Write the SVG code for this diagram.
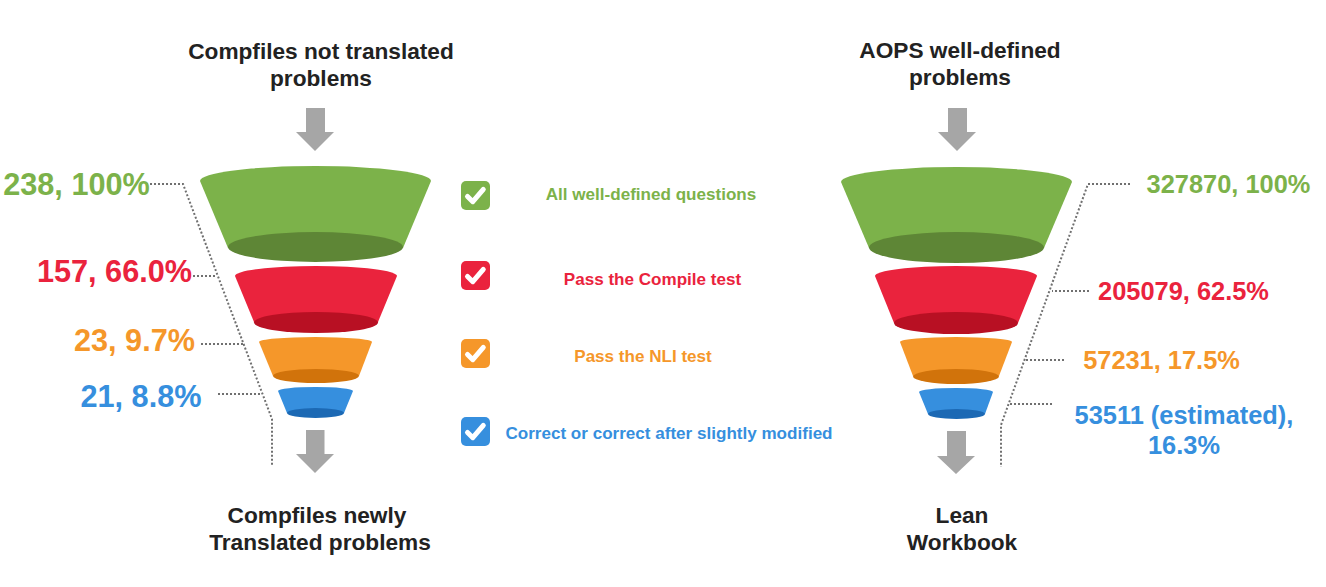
<svg xmlns="http://www.w3.org/2000/svg" width="1326" height="587" viewBox="0 0 1326 587">
<style>
text{font-family:"Liberation Sans",Arial,sans-serif;font-weight:bold;text-anchor:middle}
.title{font-size:22.67px;fill:#222}
.big{font-size:30.67px}
.mid{font-size:25.4px}
.small{font-size:17.07px}
.green{fill:#7CB24A}.red{fill:#EA233D}.orange{fill:#F5972A}.blue{fill:#368FDE}
.dgreen{fill:#5E8636}.dred{fill:#B81023}.dorange{fill:#D1730B}.dblue{fill:#1C69B4}
.arrow{fill:#A6A6A6}
.dots{fill:none;stroke:#707070;stroke-width:2;stroke-dasharray:2 2}
.tick{fill:none;stroke:#fff;stroke-width:5;stroke-linecap:round;stroke-linejoin:round}
</style>
<defs>
<path id="tk" class="tick" d="M6.500 15.500L11.800 20.700L22.300 8.300"/>
</defs>
<g id="connectors">
<path class="dots" d="M146 184H183L272 419V465"/>
<path class="dots" d="M193 276H217"/>
<path class="dots" d="M201 344H243"/>
<path class="dots" d="M218 394H261"/>
<path class="dots" d="M1130 184H1088L1001 425V467"/>
<path class="dots" d="M1089 291H1052"/>
<path class="dots" d="M1064 360H1025"/>
<path class="dots" d="M1052 404H1008"/>
</g>
<g id="title-left"><text class="title" x="321" y="59">Compfiles not translated</text><text class="title" x="321" y="86">problems</text></g>
<g id="title-right"><text class="title" x="960" y="58">AOPS well-defined</text><text class="title" x="960" y="85">problems</text></g>
<g id="arrow-left-top"><path class="arrow" d="M306 108H325V132H334L315 151L296 132H306Z"/></g>
<g id="arrow-right-top"><path class="arrow" d="M948 108H967V132H976L957 151L938 132H948Z"/></g>
<g id="arrow-left-bottom"><path class="arrow" d="M306 430H324.500V454H334L315 473L296 454H306Z"/></g>
<g id="arrow-right-bottom"><path class="arrow" d="M947 431H966V456H975L956 474L937 456H947Z"/></g>
<g id="funnel-left-1"><path class="green" d="M200 181A115.500 15 0 0 1 431 181L403 248H228Z"/><ellipse class="dgreen" cx="315.500" cy="247" rx="87.500" ry="15"/></g>
<g id="funnel-left-2"><path class="red" d="M235 276A81 10 0 0 1 397 276L378 322H254Z"/><ellipse class="dred" cx="316" cy="322.500" rx="62" ry="10.500"/></g>
<g id="funnel-left-3"><path class="orange" d="M259 342A56.500 5 0 0 1 372 342L359 376H273Z"/><ellipse class="dorange" cx="316" cy="376" rx="43" ry="7"/></g>
<g id="funnel-left-4"><path class="blue" d="M278 391A37.500 4 0 0 1 353 391L344 413H287Z"/><ellipse class="dblue" cx="315.500" cy="413" rx="28.500" ry="5"/></g>
<g id="funnel-right-1"><path class="green" d="M841 182A115.500 15 0 0 1 1072 182L1044 248H869Z"/><ellipse class="dgreen" cx="956.500" cy="247.500" rx="87.500" ry="15.500"/></g>
<g id="funnel-right-2"><path class="red" d="M875 276A81 10 0 0 1 1037 276L1018 323H894Z"/><ellipse class="dred" cx="956" cy="323" rx="62" ry="11"/></g>
<g id="funnel-right-3"><path class="orange" d="M900 342A56 5 0 0 1 1012 342L999 376H913Z"/><ellipse class="dorange" cx="956" cy="376.500" rx="43" ry="7.500"/></g>
<g id="funnel-right-4"><path class="blue" d="M919 392A37 4 0 0 1 993 392L985 414H928Z"/><ellipse class="dblue" cx="956.500" cy="414" rx="28.500" ry="5"/></g>
<g id="value-left-1"><text class="big green" x="76.500" y="195">238, 100%</text></g>
<g id="value-left-2"><text class="big red" x="114.500" y="282">157, 66.0%</text></g>
<g id="value-left-3"><text class="big orange" x="134.500" y="351">23, 9.7%</text></g>
<g id="value-left-4"><text class="big blue" x="141" y="407">21, 8.8%</text></g>
<g id="value-right-1"><text class="mid green" x="1228.500" y="193">327870, 100%</text></g>
<g id="value-right-2"><text class="mid red" x="1183.500" y="300">205079, 62.5%</text></g>
<g id="value-right-3"><text class="mid orange" x="1161.500" y="369">57231, 17.5%</text></g>
<g id="value-right-4"><text class="mid blue" x="1184" y="424">53511 (estimated),</text><text class="mid blue" x="1184" y="454">16.3%</text></g>
<g id="legend-1"><rect class="green" x="461" y="181" width="29" height="29" rx="5"/><use href="#tk" x="461" y="181"/><text class="small green" x="651" y="200">All well-defined questions</text></g>
<g id="legend-2"><rect class="red" x="461" y="261" width="29" height="29" rx="5"/><use href="#tk" x="461" y="261"/><text class="small red" x="652.500" y="285">Pass the Compile test</text></g>
<g id="legend-3"><rect class="orange" x="461" y="339" width="29" height="29" rx="5"/><use href="#tk" x="461" y="339"/><text class="small orange" x="643" y="362">Pass the NLI test</text></g>
<g id="legend-4"><rect class="blue" x="461" y="417" width="29" height="29" rx="5"/><use href="#tk" x="461" y="417"/><text class="small blue" x="669" y="439">Correct or correct after slightly modified</text></g>
<g id="result-left"><text class="title" x="317" y="523">Compfiles newly</text><text class="title" x="320" y="550">Translated problems</text></g>
<g id="result-right"><text class="title" x="962" y="523">Lean</text><text class="title" x="962" y="550">Workbook</text></g>
</svg>
